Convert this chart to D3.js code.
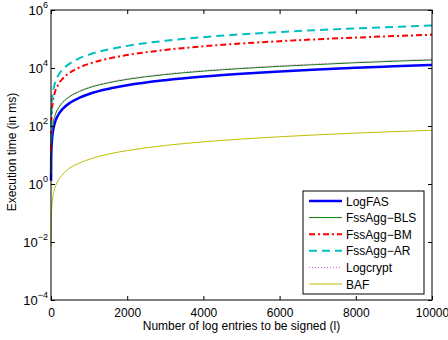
<!DOCTYPE html>
<html>
<head>
<meta charset="utf-8">
<script src="https://cdn.jsdelivr.net/npm/d3@7"></script>
<style>
  body { margin: 0; background: #fff; }
  svg { font-family: "Liberation Sans", Arial, Helvetica, sans-serif; }
</style>
</head>
<body>
<svg id="chart" width="448" height="340"></svg>
<script>
// number of log entries (x) where values were read
var entries = [1, 5, 10, 20, 50, 100, 200, 300, 500, 750, 1000, 1500, 2000, 3000, 4000, 5000, 6000, 7000, 8000, 9000, 10000];

// execution time in ms
var logfas   = [1.3, 6.4, 13, 25, 64, 127, 254, 380, 635, 950, 1270, 1900, 2540, 3800, 5080, 6350, 7620, 8900, 10200, 11400, 12700];
var fssBLS   = [2.2, 11, 22, 43, 108, 215, 425, 635, 1050, 1560, 2080, 3080, 4060, 5950, 7800, 9600, 11400, 13200, 15200, 17100, 19000];
var fssBM    = [14, 70, 140, 280, 700, 1400, 2800, 4200, 7000, 10500, 14000, 21000, 28000, 42000, 56000, 70000, 84000, 98000, 112000, 126000, 140000];
var fssAR    = [29, 145, 290, 580, 1450, 2900, 5800, 8700, 14500, 21800, 29000, 43500, 58000, 87000, 116000, 145000, 174000, 203000, 232000, 261000, 290000];
var logcrypt = [2.3, 11.5, 23, 45, 113, 225, 445, 665, 1100, 1640, 2180, 3230, 4260, 6250, 8200, 10100, 12000, 13900, 16000, 18000, 20000];
var baf      = [0.0071, 0.036, 0.071, 0.14, 0.36, 0.71, 1.42, 2.1, 3.6, 5.3, 7.1, 10.7, 14.2, 21.3, 28.4, 35.5, 42.6, 49.7, 56.8, 63.9, 71];

var names = ['LogFAS', 'FssAgg\u2212BLS', 'FssAgg\u2212BM', 'FssAgg\u2212AR', 'Logcrypt', 'BAF'];
var xTicks = [0, 2000, 4000, 6000, 8000, 10000];
var yExps = [-4, -2, 0, 2, 4, 6];

var series = [
  {name: names[0], values: logfas,   color: '#0000ff', width: 2.5, dash: null},
  {name: names[1], values: fssBLS,   color: '#008000', width: 1,   dash: null},
  {name: names[2], values: fssBM,    color: '#ff0000', width: 2,   dash: '6,3,2,3'},
  {name: names[3], values: fssAR,    color: '#00bfbf', width: 2,   dash: '8,5'},
  {name: names[4], values: logcrypt, color: '#cc55cc', width: 1,   dash: '1,2'},
  {name: names[5], values: baf,      color: '#bfbf00', width: 1,   dash: null}
];

var margin = {top: 10, right: 16, bottom: 40, left: 51},
    width = 432 - margin.left,
    height = 300 - margin.top;

var svg = d3.select('#chart');
var g = svg.append('g').attr('transform', 'translate(' + margin.left + ',' + margin.top + ')');

var x = d3.scaleLinear().domain([0, 10000]).range([0, width]),
    y = d3.scaleLog().domain([1e-4, 1e6]).range([height, 0]);

var line = d3.line()
    .curve(d3.curveMonotoneX)
    .x(function(d) { return x(d[0]); })
    .y(function(d) { return y(d[1]); });

series.forEach(function(s) {
  var pts = entries.map(function(n, i) { return [n, s.values[i]]; });
  g.append('path')
    .datum(pts)
    .attr('d', line)
    .attr('fill', 'none')
    .attr('stroke', s.color)
    .attr('stroke-width', s.width)
    .attr('stroke-dasharray', s.dash);
});

// box
g.append('rect')
  .attr('width', width).attr('height', height)
  .attr('fill', 'none').attr('stroke', '#000').attr('stroke-width', 1);

// ticks inward on all four sides
var yTickVals = yExps.map(function(e) { return Math.pow(10, e); });

g.append('g')
  .attr('transform', 'translate(0,' + height + ')')
  .call(d3.axisBottom(x).tickValues(xTicks).tickSizeInner(-4).tickSizeOuter(0).tickPadding(8).tickFormat(d3.format('d')))
  .call(function(a) {
    a.select('.domain').remove();
    a.selectAll('text').attr('font-size', 12).attr('fill', '#000').attr('font-family', null);
  });

g.append('g')
  .call(d3.axisTop(x).tickValues(xTicks).tickSizeInner(-4).tickSizeOuter(0).tickFormat(''))
  .call(function(a) { a.select('.domain').remove(); });

g.append('g')
  .call(d3.axisLeft(y).tickValues(yTickVals).tickSizeInner(-4).tickSizeOuter(0).tickFormat(''))
  .call(function(a) { a.select('.domain').remove(); });

g.append('g')
  .attr('transform', 'translate(' + width + ',0)')
  .call(d3.axisRight(y).tickValues(yTickVals).tickSizeInner(-4).tickSizeOuter(0).tickFormat(''))
  .call(function(a) { a.select('.domain').remove(); });

// y tick labels as 10^n
var yl = g.append('g');
yExps.forEach(function(e) {
  var t = yl.append('text')
    .attr('x', -3)
    .attr('y', y(Math.pow(10, e)) + 5)
    .attr('text-anchor', 'end')
    .attr('font-size', 13);
  t.append('tspan').text('10');
  t.append('tspan').attr('dy', -7).attr('font-size', 9).text(e < 0 ? '\u2212' + (-e) : e);
});

// axis titles
svg.append('text')
  .attr('x', margin.left + width / 2)
  .attr('y', 330)
  .attr('text-anchor', 'middle')
  .attr('font-size', 12)
  .text('Number of log entries to be signed (l)');

svg.append('text')
  .attr('transform', 'translate(16,' + (margin.top + 142) + ')rotate(-90)')
  .attr('text-anchor', 'middle')
  .attr('font-size', 12)
  .text('Execution time (in ms)');

// legend
var lg = svg.append('g').attr('transform', 'translate(303,191)');
lg.append('rect')
  .attr('width', 121).attr('height', 103)
  .attr('fill', '#fff').attr('stroke', '#000').attr('stroke-width', 1);

series.forEach(function(s, i) {
  var yy = 10 + i * 16.6;
  lg.append('line')
    .attr('x1', 6).attr('x2', 39)
    .attr('y1', yy).attr('y2', yy)
    .attr('stroke', s.color)
    .attr('stroke-width', s.width)
    .attr('stroke-dasharray', s.dash);
  lg.append('text')
    .attr('x', 43).attr('y', yy + 4.5)
    .attr('font-size', 12)
    .text(s.name);
});
</script>
</body>
</html>
